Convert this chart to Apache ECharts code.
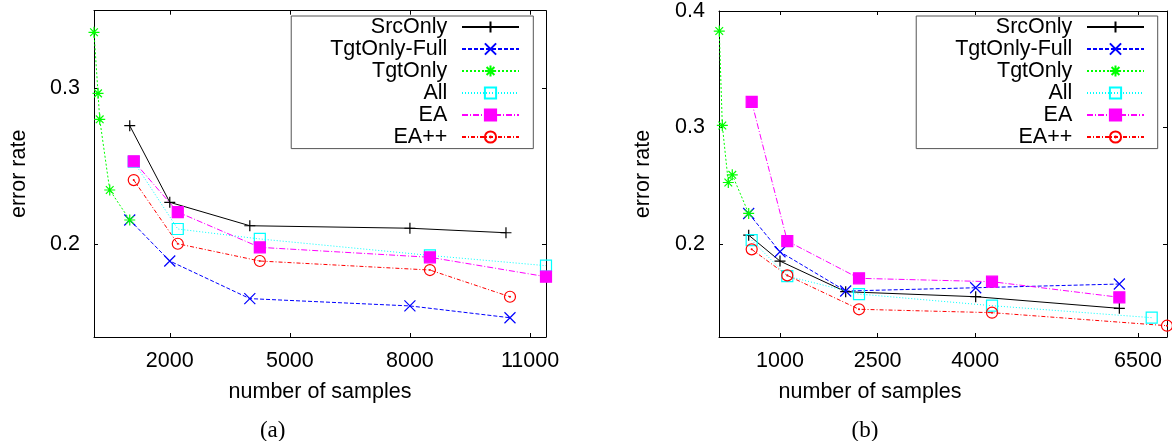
<!DOCTYPE html>
<html>
<head>
<meta charset="utf-8">
<script src="https://cdn.jsdelivr.net/npm/echarts@6/dist/echarts.min.js"></script>
<style>
  html, body { margin: 0; padding: 0; background: #fff; }
  #chart { width: 1172px; height: 441px; }
</style>
</head>
<body>
<div id="chart"></div>
<script>
// panel (a)
const aSrcOnlyN = [1000, 2000, 4000, 8000, 10400];
const aSrcOnlyErr = [0.276, 0.2267, 0.2116, 0.21, 0.2071];
const aTgtFullN = [1000, 2000, 4000, 8000, 10500];
const aTgtFullErr = [0.2153, 0.1889, 0.1647, 0.16, 0.1524];
const aTgtOnlyN = [107, 208, 250, 500, 1000];
const aTgtOnlyErr = [0.3361, 0.2968, 0.2801, 0.2346, 0.2153];
const aAllN = [1100, 2200, 4250, 8500, 11400];
const aAllErr = [0.2528, 0.2095, 0.2031, 0.1925, 0.1859];
const aEAN = [1100, 2200, 4250, 8500, 11400];
const aEAErr = [0.2531, 0.2204, 0.1977, 0.1913, 0.1788];
const aEAppN = [1100, 2200, 4250, 8500, 10500];
const aEAppErr = [0.241, 0.2, 0.1889, 0.1831, 0.1659];
const aXTicks = [2000, 5000, 8000, 11000];
const aYTicks = [0.2, 0.3];

// panel (b)
const bSrcOnlyN = [519, 1000, 2009, 4006, 6213];
const bSrcOnlyErr = [0.2075, 0.1852, 0.1589, 0.1546, 0.1446];
const bTgtFullN = [519, 1000, 2009, 4006, 6213];
const bTgtFullErr = [0.2261, 0.1932, 0.1595, 0.1623, 0.1655];
const bTgtOnlyN = [67, 114, 206, 267, 519];
const bTgtOnlyErr = [0.3828, 0.3017, 0.2527, 0.2593, 0.2261];
const bAllN = [565, 1112, 2214, 4257, 6710];
const bAllErr = [0.2032, 0.1723, 0.1569, 0.1469, 0.1366];
const bEAN = [565, 1112, 2214, 4257, 6213];
const bEAErr = [0.3219, 0.2024, 0.1704, 0.1675, 0.1541];
const bEAppN = [565, 1112, 2214, 4257, 6945];
const bEAppErr = [0.1953, 0.1729, 0.1438, 0.1409, 0.1297];
const bXTicks = [1000, 2500, 4000, 6500];
const bYTicks = [0.2, 0.3, 0.4];

const names = ['SrcOnly', 'TgtOnly-Full', 'TgtOnly', 'All', 'EA', 'EA++'];

const FONT = 'Liberation Sans';
const FS = 21.5;

// line look for each method (gnuplot style)
const looks = {
  'SrcOnly': { color: '#000000', dash: 'solid', symbol: 'path://M5,0L5,10M0,5L10,5', fill: 'none' },
  'TgtOnly-Full': { color: '#0000ff', dash: [4, 2], symbol: 'path://M0,0L10,10M10,0L0,10', fill: 'none' },
  'TgtOnly': { color: '#00ff00', dash: [2, 2], symbol: 'path://M5,0L5,10M0,5L10,5M1.5,1.5L8.5,8.5M8.5,1.5L1.5,8.5', fill: 'none' },
  'All': { color: '#00ffff', dash: [1, 2], symbol: 'rect', fill: 'none' },
  'EA': { color: '#ff00ff', dash: [6, 2, 1, 2], symbol: 'rect', fill: '#ff00ff' },
  'EA++': { color: '#ff0000', dash: [4, 2, 1, 2], symbol: 'path://M0,5A5,5 0 1,1 10,5A5,5 0 1,1 0,5ZM4.6,5A0.4,0.4 0 1,1 5.4,5A0.4,0.4 0 1,1 4.6,5Z', fill: 'none' }
};

function zip(xs, ys) {
  return xs.map((x, i) => [x, ys[i]]);
}

function makeSeries(name, xs, ys, axisIdx) {
  const lk = looks[name];
  return {
    name: name,
    type: 'line',
    xAxisIndex: axisIdx,
    yAxisIndex: axisIdx,
    data: zip(xs, ys),
    symbol: lk.symbol,
    symbolSize: 11,
    lineStyle: { color: lk.color, width: 1, type: lk.dash },
    itemStyle: { color: lk.fill, borderColor: lk.color, borderWidth: 1.2 },
    emphasis: { disabled: true }
  };
}

function axisLine() {
  return { show: true, onZero: false, lineStyle: { color: '#000', width: 1 } };
}

// plain numbers, no thousands separator
function plain(v) {
  return String(v);
}

function xAxes(grid, min, max, ticks, nameOpt) {
  return [{
    type: 'value', gridIndex: grid, min: min, max: max, position: 'bottom',
    axisLine: axisLine(),
    axisTick: { inside: true, length: 4, customValues: ticks, lineStyle: { color: '#000' } },
    axisLabel: { customValues: ticks, formatter: plain, margin: 13, color: '#000', fontFamily: FONT, fontSize: FS },
    splitLine: { show: false },
    name: 'number of samples', nameLocation: 'middle', nameGap: 44,
    nameTextStyle: Object.assign({ color: '#000', fontFamily: FONT, fontSize: FS, lineHeight: 21.5 }, nameOpt || {})
  }, {
    type: 'value', gridIndex: grid, min: min, max: max, position: 'top',
    axisLine: axisLine(),
    axisTick: { inside: true, length: 4, customValues: ticks, lineStyle: { color: '#000' } },
    axisLabel: { show: false },
    splitLine: { show: false }
  }];
}

function yAxes(grid, min, max, ticks, gap) {
  return [{
    type: 'value', gridIndex: grid, min: min, max: max, position: 'left',
    axisLine: axisLine(),
    axisTick: { inside: true, length: 4, customValues: ticks, lineStyle: { color: '#000' } },
    axisLabel: { customValues: ticks, formatter: plain, margin: 14, color: '#000', fontFamily: FONT, fontSize: FS },
    splitLine: { show: false },
    name: 'error rate', nameLocation: 'middle', nameGap: gap,
    nameTextStyle: { color: '#000', fontFamily: FONT, fontSize: FS, lineHeight: 21.5 }
  }, {
    type: 'value', gridIndex: grid, min: min, max: max, position: 'right',
    axisLine: axisLine(),
    axisTick: { inside: true, length: 4, customValues: ticks, lineStyle: { color: '#000' } },
    axisLabel: { show: false },
    splitLine: { show: false }
  }];
}

function legendBox(right, padRight) {
  return {
    data: names,
    orient: 'vertical',
    align: 'right',
    right: right,
    top: 16,
    padding: [0, padRight, 0.6, 39],
    itemGap: 0,
    itemWidth: 57,
    itemHeight: 14,
    borderColor: '#555',
    borderWidth: 1,
    selectedMode: false,
    textStyle: { color: '#000', fontFamily: FONT, fontSize: FS, lineHeight: 21.7, padding: [0, 9.7, 0, 0] }
  };
}

const chart = echarts.init(document.getElementById('chart'));

const series = [
  makeSeries('SrcOnly', aSrcOnlyN, aSrcOnlyErr, 0),
  makeSeries('TgtOnly-Full', aTgtFullN, aTgtFullErr, 0),
  makeSeries('TgtOnly', aTgtOnlyN, aTgtOnlyErr, 0),
  makeSeries('All', aAllN, aAllErr, 0),
  makeSeries('EA', aEAN, aEAErr, 0),
  makeSeries('EA++', aEAppN, aEAppErr, 0),
  makeSeries('SrcOnly', bSrcOnlyN, bSrcOnlyErr, 2),
  makeSeries('TgtOnly-Full', bTgtFullN, bTgtFullErr, 2),
  makeSeries('TgtOnly', bTgtOnlyN, bTgtOnlyErr, 2),
  makeSeries('All', bAllN, bAllErr, 2),
  makeSeries('EA', bEAN, bEAErr, 2),
  makeSeries('EA++', bEAppN, bEAppErr, 2)
];

chart.setOption({
  animation: false,
  backgroundColor: '#fff',
  title: [
    { text: '(a)', left: 272.7, top: 419, textAlign: 'center', padding: 0,
      textStyle: { color: '#000', fontFamily: 'Liberation Serif', fontSize: 23, fontWeight: 'normal', lineHeight: 23 } },
    { text: '(b)', left: 865, top: 419, textAlign: 'center', padding: 0,
      textStyle: { color: '#000', fontFamily: 'Liberation Serif', fontSize: 23, fontWeight: 'normal', lineHeight: 23 } }
  ],
  grid: [
    { left: 94, top: 10.7, width: 452, height: 326.3 },
    { left: 719, top: 10.7, width: 448, height: 326.3 }
  ],
  xAxis: [].concat(
    xAxes(0, 107, 11400, aXTicks),
    xAxes(1, 63, 6945, bXTicks, { padding: [0, 146, 0, 0] })
  ),
  yAxis: [].concat(
    yAxes(0, 0.14, 0.35, aYTicks, 64),
    yAxes(1, 0.12, 0.4, bYTicks, 65)
  ),
  legend: [legendBox(638.7, 13.3), legendBox(14.3, 12.7)],
  series: series
});
</script>
</body>
</html>
